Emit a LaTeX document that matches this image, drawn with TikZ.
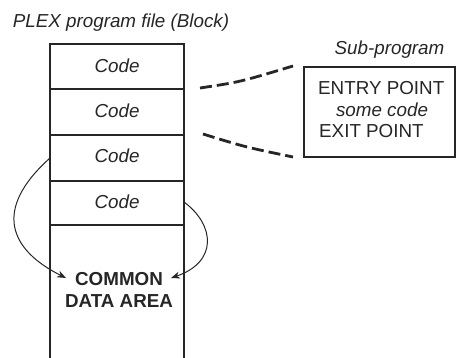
\documentclass[tikz,border=0pt]{standalone}
\usepackage{fontspec}
\setmainfont{Liberation Sans}
\usetikzlibrary{arrows.meta}
\definecolor{ink}{gray}{0.15}
\begin{document}
\begin{tikzpicture}[x=1pt,y=-1pt,
  txt/.style={font=\fontsize{18.8}{22}\selectfont, inner sep=0pt, anchor=base, text=ink},
  itxt/.style={txt, font=\fontsize{18.8}{22}\selectfont\itshape},
  btxt/.style={txt, font=\fontsize{18.8}{22}\selectfont\bfseries},
  frame/.style={draw=ink, line width=1.3pt},
  link/.style={draw=ink, line width=2.8pt, dash pattern=on 12pt off 5pt},
  flow/.style={draw=ink, line width=1pt, -{Stealth[length=9pt,width=7pt]}}
]
\useasboundingbox (0,0) rectangle (457,358);
% block
\draw[frame] (50,358) -- (50,44) -- (184,44) -- (184,358);
\foreach \yy in {89,135,181,225} \draw[frame] (50,\yy) -- (184,\yy);
\node[itxt] (title) at (121,28) {PLEX program file (Block)};
\node[itxt] (c1) at (117,73) {Code};
\node[itxt] (c2) at (117,118) {Code};
\node[itxt] (c3) at (117,163) {Code};
\node[itxt] (c4) at (117,208) {Code};
\node[btxt] (common) at (119,285) {COMMON};
\node[btxt] (area) at (119,307) {DATA AREA};
% sub-program
\node[frame, minimum width=151pt, minimum height=90pt, inner sep=0pt] (sub) at (379.5,112) {};
\node[itxt] (subtitle) at (389.5,55) {Sub-program};
\node[txt, anchor=base west] (entry) at (318,95) {ENTRY POINT};
\node[itxt] (some) at (382,117) {some code};
\node[txt, anchor=base west] (exit) at (319,138) {EXIT POINT};
% connectors
\coordinate (u1) at (200,88);
\coordinate (u2) at (293,66);
\coordinate (l1) at (203,134);
\coordinate (l2) at (293,157);
\draw[link] (u1) .. controls (240,82) .. (u2);
\draw[link] (l1) .. controls (245,147) .. (l2);
\coordinate (s3) at (50,158);
\coordinate (e3) at (66,278);
\coordinate (s4) at (184,202);
\coordinate (e4) at (171,278);
\draw[flow] (s3) .. controls (-8,210) and (10,250) .. (e3);
\draw[flow] (s4) .. controls (215,225) and (218,262) .. (e4);
\end{tikzpicture}
\end{document}
